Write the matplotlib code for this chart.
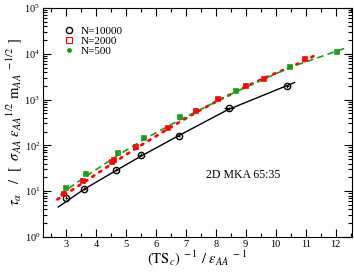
import numpy as np
import matplotlib
matplotlib.use("Agg")
import matplotlib.pyplot as plt
from matplotlib.lines import Line2D
from matplotlib.ticker import MultipleLocator, LogLocator, NullFormatter

plt.rcParams['font.family'] = ['Liberation Serif', 'DejaVu Serif']
plt.rcParams['mathtext.fontset'] = 'stix'

# data points
x10000 = [3.0, 3.61, 4.67, 5.5, 6.77, 8.44, 10.39]
y10000 = [7.2, 11.3, 29.5, 63, 162, 650, 1950]
xe10000 = [0.05, 0.05, 0.05, 0.05, 0.05, 0.18, 0.05]

x2000 = [2.92, 3.56, 4.52, 4.6, 5.32, 6.41, 7.33, 8.08, 9.0, 9.6, 10.97]
y2000 = [8.8, 17.0, 44, 48, 90, 243, 573, 1014, 1990, 2820, 7600]
xe2000 = [0.06] * len(x2000)

x500 = [2.99, 3.66, 4.72, 5.6, 6.8, 8.69, 10.47, 12.06]
y500 = [12, 23.6, 69, 145, 410, 1567, 5250, 10800]
xe500 = [0.06] * len(x500)

# fit curves
fit10000_x = [2.74, 3.6, 4.7, 5.5, 6.7, 8.4, 10.63]
fit10000_y = [4.5, 11, 29, 58, 155, 600, 2350]
fit2000_x = [2.71, 3.56, 4.54, 5.32, 6.41, 7.33, 8.08, 9.0, 9.6, 10.97, 11.28]
fit2000_y = [6.6, 15, 40, 85, 230, 520, 950, 1900, 2900, 7000, 9000]
fit500_x = [2.8, 3.0, 3.66, 4.72, 5.6, 6.8, 8.69, 10.47, 12.41]
fit500_y = [8.2, 10.5, 21, 60, 135, 360, 1500, 5000, 13900]

green = '#1a9a1a'

fig = plt.figure(figsize=(3.54, 2.73), dpi=100)
ax = fig.add_axes([0.1215, 0.132, 0.873, 0.839])

ax.plot(fit10000_x, fit10000_y, '-', color='black', lw=1.0)
ax.plot(fit2000_x, fit2000_y, linestyle=(0, (0.8, 2.2)), color='red', lw=2.0,
        dash_capstyle='round')
ax.plot(fit500_x, fit500_y, linestyle=(0, (4, 2.5)), color=green, lw=1.2)

ax.errorbar(x10000, y10000, xerr=xe10000, yerr=np.array(y10000) * 0.08, fmt='o',
            mfc='none', mec='black', ecolor='black', ms=4.5, mew=1.0, elinewidth=0.8)
ax.errorbar(x2000, y2000, xerr=xe2000, yerr=np.array(y2000) * 0.1, fmt='s',
            mfc='none', mec='red', ecolor='red', ms=3.0, mew=1.2, elinewidth=1.2)
ax.errorbar(x500, y500, xerr=xe500, yerr=np.array(y500) * 0.1, fmt='s',
            mfc='none', mec=green, ecolor=green, ms=3.2, mew=1.2, elinewidth=1.2)

ax.set_yscale('log')
ax.set_xlim(2.23, 12.55)
ax.set_ylim(1, 1e5)
ax.xaxis.set_major_locator(MultipleLocator(1))
ax.xaxis.set_minor_locator(MultipleLocator(0.5))
ax.yaxis.set_major_locator(LogLocator(base=10, numticks=10))
ax.yaxis.set_minor_locator(LogLocator(base=10, subs=np.arange(2, 10), numticks=20))
ax.yaxis.set_minor_formatter(NullFormatter())
ax.tick_params(which='both', direction='in', top=True, right=True, labelsize=7.5,
               width=0.8, pad=2)
ax.tick_params(which='major', length=6)
ax.tick_params(which='minor', length=3)
for s in ax.spines.values():
    s.set_linewidth(0.8)

ax.set_xlabel(r'$(\mathrm{TS}_c)^{\ -1}\ /\ \epsilon_{AA}{}^{\ -1}$', fontsize=10.5, labelpad=0)
ax.set_ylabel(r'$\tau_\alpha\ \ \ /\ \ [\ \ \sigma_{AA}\ \epsilon_{AA}{}^{1/2}\ \mathrm{m}_{AA}{}^{\ -1/2}\ ]$',
              fontsize=10.5, labelpad=0)

ax.text(8.9, 22, '2D MKA 65:35', fontsize=8.5, ha='center', va='center')

handles = [
    Line2D([], [], ls='none', marker='o', mfc='none', mec='black', ms=4.5, mew=1.0),
    Line2D([], [], ls='none', marker='s', mfc='none', mec='red', ms=4.2, mew=0.8),
    Line2D([], [], ls='none', marker='o', mfc=green, mec=green, ms=2.5),
]
ax.legend(handles, ['N=10000', 'N=2000', 'N=500'], loc='upper left',
          bbox_to_anchor=(0.03, 0.965), frameon=False, fontsize=8,
          handletextpad=0.5, labelspacing=0.05, handlelength=1.2)

fig.savefig('out.png', dpi=100)
